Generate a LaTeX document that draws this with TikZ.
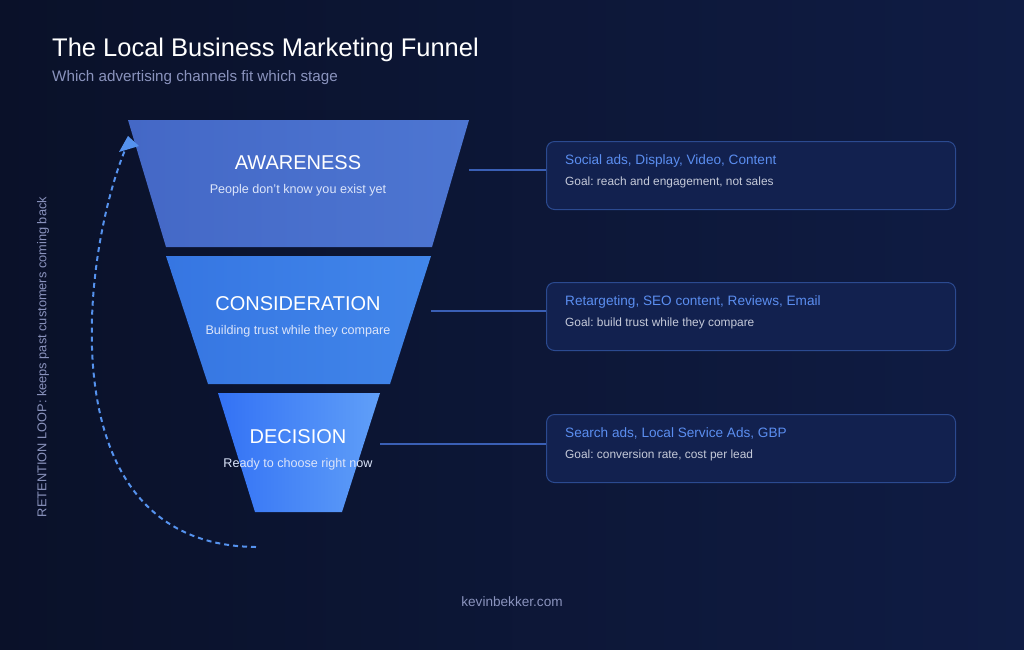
\documentclass[tikz,border=0pt]{standalone}
\usepackage{fontspec}
\setmainfont{Liberation Sans}
\usetikzlibrary{arrows.meta}
\frenchspacing
\definecolor{bgA}{HTML}{0A1129}
\definecolor{bgB}{HTML}{0F1C44}
\definecolor{awL}{HTML}{4468C6}
\definecolor{awR}{HTML}{4D76D2}
\definecolor{coL}{HTML}{3676E2}
\definecolor{coR}{HTML}{4186EA}
\definecolor{deL}{HTML}{3372F5}
\definecolor{deR}{HTML}{609FF8}
\definecolor{boxfill}{HTML}{12214F}
\definecolor{boxline}{HTML}{2B4A90}
\definecolor{chan}{HTML}{5B8EF0}
\definecolor{goal}{HTML}{C5CAD9}
\definecolor{muted}{HTML}{8A93BD}
\definecolor{conn}{HTML}{3A5FB5}
\definecolor{loopc}{HTML}{5592EE}
\definecolor{subw}{HTML}{DCE5FA}
\tikzset{
  stagetitle/.style={text=white, font=\fontsize{20}{23}\selectfont},
  stagesub/.style={text=subw, font=\fontsize{12.6}{15}\selectfont},
  chanbox/.style={draw=boxline, fill=boxfill, rounded corners=8pt, line width=1pt,
    minimum width=409pt, minimum height=68pt, anchor=north west},
  chantext/.style={text=chan, anchor=base west, inner sep=0pt, font=\fontsize{13.6}{16}\selectfont},
  goaltext/.style={text=goal, anchor=base west, inner sep=0pt, font=\fontsize{11.9}{14}\selectfont},
  connector/.style={draw=conn, line width=1.3pt},
  retloop/.style={draw=loopc, line width=2pt, dash pattern=on 5pt off 4pt},
}
\begin{document}
\begin{tikzpicture}[x=1pt,y=-1pt]
\shade[left color=bgA, right color=bgB] (0,0) rectangle (1024,649);
\useasboundingbox (0,0) rectangle (1024,649);
% title
\node[anchor=base west, text=white, inner sep=0, font=\fontsize{25.5}{28}\selectfont] (title) at (52,56) {The Local Business Marketing Funnel};
\node[anchor=base west, text=muted, inner sep=0, font=\fontsize{15.2}{17}\selectfont] (subtitle) at (52,81) {Which advertising channels fit which stage};
% funnel
\shade[left color=awL, right color=awR] (128,120) -- (469,120) -- (432,247) -- (166,247) -- cycle;
\shade[left color=coL, right color=coR] (166,256) -- (431,256) -- (390,384) -- (208,384) -- cycle;
\shade[left color=deL, right color=deR] (218,393) -- (380,393) -- (342,512) -- (255,512) -- cycle;
\coordinate (awR) at (469,170);
\coordinate (coR) at (431,311);
\coordinate (deR) at (380,444);
\node[stagetitle] (aw) at (298,163) {AWARENESS};
\node[stagesub] (aws) at (298,190) {People don't know you exist yet};
\node[stagetitle] (co) at (298,304) {CONSIDERATION};
\node[stagesub] (cos) at (298,331) {Building trust while they compare};
\node[stagetitle] (de) at (298,437) {DECISION};
\node[stagesub] (des) at (298,464) {Ready to choose right now};
% boxes
\node[chanbox] (b1) at (546,141) {};
\node[chanbox] (b2) at (546,282) {};
\node[chanbox] (b3) at (546,414) {};
\draw[connector] (awR) -- (awR -| b1.west);
\draw[connector] (coR) -- (coR -| b2.west);
\draw[connector] (deR) -- (deR -| b3.west);
\node[chantext] (c1) at (565,164) {Social ads, Display, Video, Content};
\node[goaltext] (g1) at (565,185) {Goal: reach and engagement, not sales};
\node[chantext] (c2) at (565,305) {Retargeting, SEO content, Reviews, Email};
\node[goaltext] (g2) at (565,326) {Goal: build trust while they compare};
\node[chantext] (c3) at (565,437) {Search ads, Local Service Ads, GBP};
\node[goaltext] (g3) at (565,458) {Goal: conversion rate, cost per lead};
% retention loop
\coordinate (ls) at (256,547);
\coordinate (le) at (125,150);
\draw[retloop] (ls) .. controls (45,545) and (82,255) .. (le);
\fill[loopc] (128,136) -- (139,146) -- (119,152) -- cycle;
\node[rotate=90, text=muted, font=\fontsize{12.8}{15}\selectfont] (rl) at (43,357) {RETENTION LOOP: keeps past customers coming back};
% footer
\node[text=muted, font=\fontsize{13.6}{16}\selectfont] (foot) at (512,602) {kevinbekker.com};
\end{tikzpicture}
\end{document}
